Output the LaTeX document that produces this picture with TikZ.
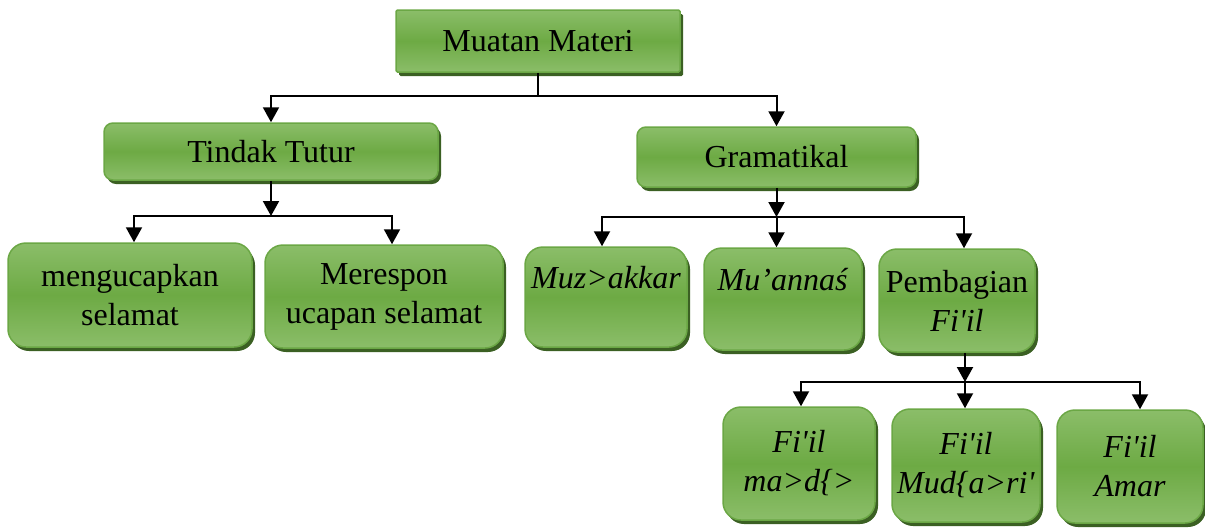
\documentclass[tikz,border=0pt]{standalone}
\usepackage{fontspec}
\setmainfont{Liberation Serif}
\usetikzlibrary{arrows.meta,shadows}
\definecolor{gtop}{HTML}{A9D18E}
\definecolor{gmid}{HTML}{6DAA44}
\definecolor{gline}{HTML}{6BA745}
\definecolor{gshadow}{HTML}{3B6023}
\pgfdeclareverticalshading{gbox}{100bp}{color(0bp)=(gtop); color(50bp)=(gmid); color(100bp)=(gtop)}
\begin{document}
\begin{tikzpicture}[x=1pt,y=-1pt,
  box/.style={draw=gline, line width=1.5pt, shading=gbox, align=center, inner sep=0pt,
     font=\fontsize{32}{39}\selectfont,
     drop shadow={shadow xshift=3pt, shadow yshift=-4pt, fill=gshadow, opacity=1}},
  arr/.style={line width=2pt, -{Triangle[length=15pt,width=16pt]}},
  ln/.style={line width=2pt}]
\useasboundingbox (0,0) rectangle (1205,528);
% boxes
\node[box, rounded corners=1.5pt, minimum width=284pt, minimum height=62pt] (mm) at (538,41) {Muatan Materi};
\node[box, rounded corners=9pt, minimum width=334pt, minimum height=57pt] (tt) at (271,151.5) {Tindak Tutur};
\node[box, rounded corners=9pt, minimum width=279pt, minimum height=60pt] (gr) at (776.5,157) {Gramatikal};
\node[box, rounded corners=18pt, minimum width=244pt, minimum height=104pt] (mg) at (130,295) {mengucapkan\\selamat};
\node[box, rounded corners=18pt, minimum width=238pt, minimum height=103pt] (mr) at (384,296.5) {Merespon\\ucapan selamat};
\node[box, rounded corners=18pt, minimum width=162pt, minimum height=100pt] (mz) at (606,297) {\textit{Muz>akkar}\\\mbox{}};
\node[box, rounded corners=18pt, minimum width=158pt, minimum height=102pt] (mu) at (783,299) {\textit{Mu’annaś}\\\mbox{}};
\node[box, rounded corners=18pt, minimum width=156pt, minimum height=103pt] (pf) at (957,300.5) {Pembagian\\\textit{Fi\textquotesingle il}};
\node[box, rounded corners=18pt, minimum width=152pt, minimum height=113pt] (f1) at (799,463.5) {\textit{Fi\textquotesingle il}\\\textit{ma>d\{>}};
\node[box, rounded corners=18pt, minimum width=148pt, minimum height=113pt] (f2) at (966,465.5) {\textit{Fi\textquotesingle il}\\\textit{Mud\{a>ri\textquotesingle}};
\node[box, rounded corners=18pt, minimum width=146pt, minimum height=113pt] (f3) at (1130,466.5) {\textit{Fi\textquotesingle il}\\\textit{Amar}};
% connectors
\coordinate (j1) at (538,96);
\draw[ln] (mm.south) -- (j1);
\draw[arr] (j1) -| (tt.north);
\draw[arr] (j1) -| (gr.north);
\coordinate (j2) at (271,216);
\draw[arr] (tt.south) -- (j2);
\draw[arr] (j2) -| ([xshift=4pt]mg.north);
\draw[arr] (j2) -| ([xshift=8pt]mr.north);
\coordinate (j3) at (776.5,217);
\draw[arr] (gr.south) -- (j3);
\draw[arr] (j3) -| ([xshift=-4pt]mz.north);
\draw[arr] (j3) -- (j3 |- mu.north);
\draw[arr] (j3) -| ([xshift=7pt]pf.north);
\coordinate (j4) at (965,382);
\draw[arr] ([xshift=8pt]pf.south) -- (j4);
\draw[arr] (j4) -| ([xshift=2pt]f1.north);
\draw[arr] (j4) -- (j4 |- f2.north);
\draw[arr] (j4) -| ([xshift=10pt]f3.north);
\end{tikzpicture}
\end{document}
